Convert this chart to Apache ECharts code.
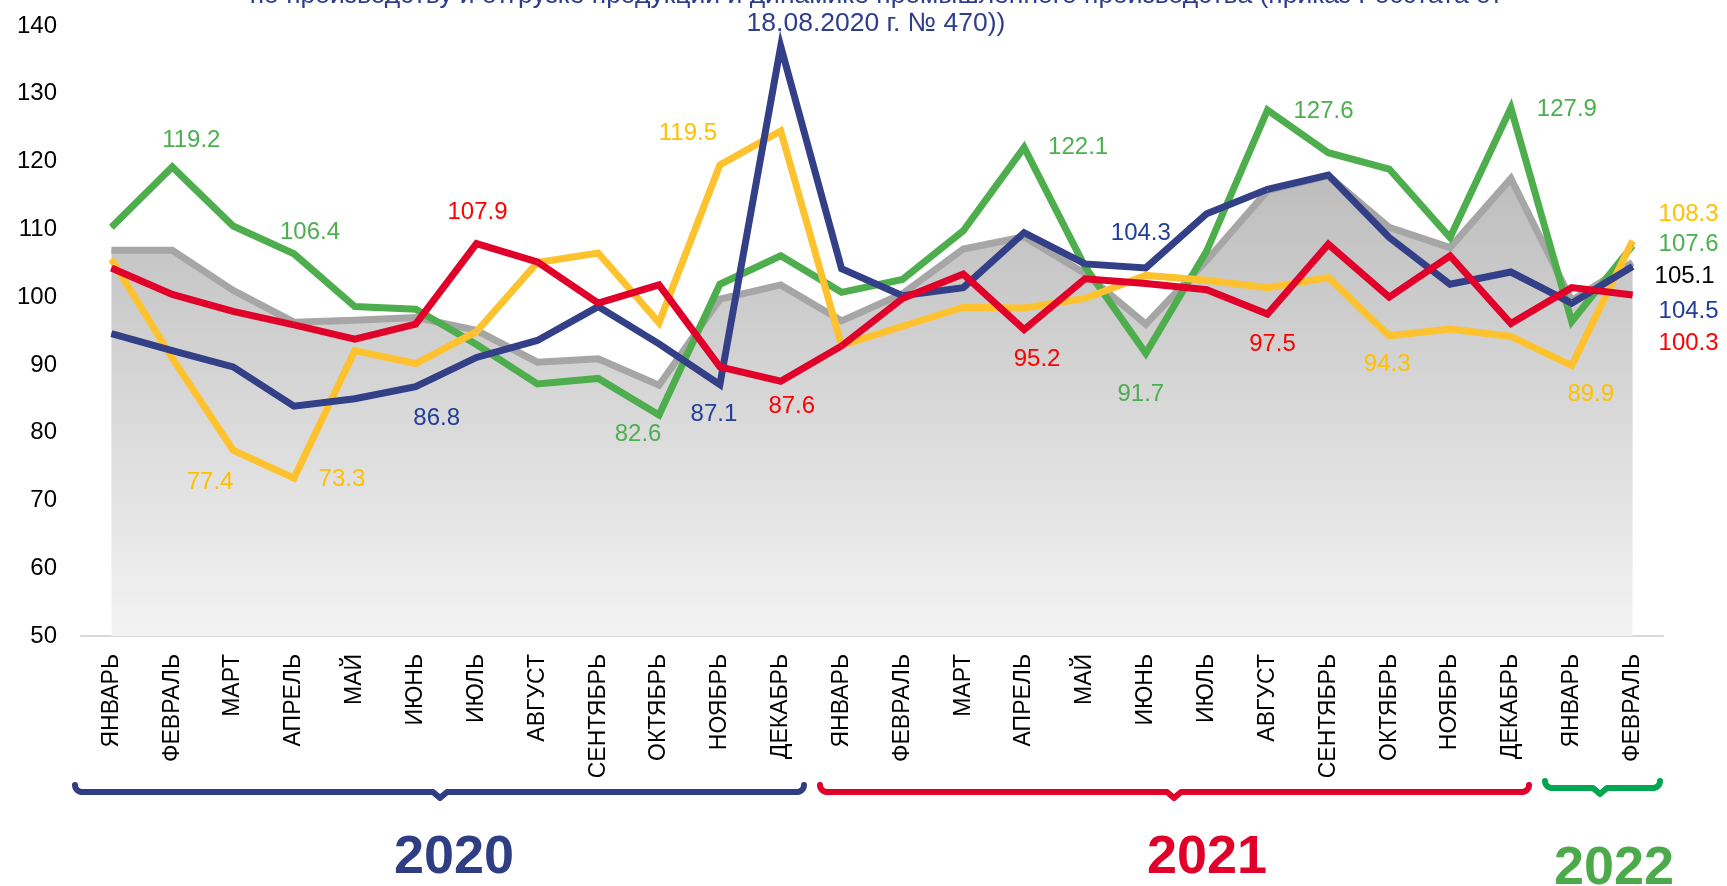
<!DOCTYPE html>
<html>
<head>
<meta charset="utf-8">
<script src="https://cdn.jsdelivr.net/npm/echarts@6/dist/echarts.min.js"></script>
<style>
  html, body { margin: 0; padding: 0; background: #fff; }
  #chart { width: 1727px; height: 886px; }
</style>
</head>
<body>
<div id="chart"></div>
<script>
// подписи по оси X (январь 2020 - февраль 2022)
var categories = [
    'ЯНВАРЬ', 'ФЕВРАЛЬ', 'МАРТ', 'АПРЕЛЬ', 'МАЙ', 'ИЮНЬ', 'ИЮЛЬ', 'АВГУСТ', 'СЕНТЯБРЬ', 'ОКТЯБРЬ', 'НОЯБРЬ', 'ДЕКАБРЬ',
    'ЯНВАРЬ', 'ФЕВРАЛЬ', 'МАРТ', 'АПРЕЛЬ', 'МАЙ', 'ИЮНЬ', 'ИЮЛЬ', 'АВГУСТ', 'СЕНТЯБРЬ', 'ОКТЯБРЬ', 'НОЯБРЬ', 'ДЕКАБРЬ',
    'ЯНВАРЬ', 'ФЕВРАЛЬ'
];

// значения рядов
var grayValues = [106.9, 106.9, 101.0, 96.3, 96.6, 97.0, 95.1, 90.4, 90.9, 87.0, 99.7, 101.8,
    96.5, 100.5, 107.1, 108.9, 103.5, 96.0, 105.4, 115.7, 117.9, 110.3, 107.3, 117.5, 99.5, 105.1];
var greenValues = [110.3, 119.2, 110.5, 106.4, 98.6, 98.2, 93.0, 87.2, 88.0, 82.6, 101.9, 106.1,
    100.7, 102.6, 109.8, 122.1, 104.5, 91.7, 106.8, 127.6, 121.3, 118.9, 108.8, 127.9, 96.4, 107.6];
var yellowValues = [105.6, 91.0, 77.4, 73.3, 92.1, 90.2, 94.9, 105.1, 106.5, 96.2, 119.5, 124.5,
    92.9, 95.7, 98.5, 98.4, 99.8, 103.2, 102.5, 101.4, 102.9, 94.3, 95.3, 94.2, 89.9, 108.3];
var redValues = [104.3, 100.4, 97.9, 95.9, 93.8, 96.0, 107.9, 105.2, 99.1, 101.8, 89.7, 87.6,
    92.8, 99.8, 103.4, 95.2, 102.7, 102.0, 101.1, 97.5, 107.8, 100.0, 106.1, 96.1, 101.4, 100.3];
var blueValues = [94.6, 92.1, 89.7, 83.9, 85.0, 86.8, 91.1, 93.6, 98.6, 93.1, 87.1, 137.0,
    104.2, 100.2, 101.4, 109.5, 104.9, 104.3, 112.3, 115.9, 118.0, 108.8, 101.9, 103.7, 99.1, 104.5];

// подписанные точки: индекс -> смещение подписи [dx, dy]
var grayLabels = { 25: [52, 14] };
var greenLabels = { 1: [19, -27], 3: [16, -21], 9: [-21, 19], 15: [54, 0], 17: [-5, 41], 19: [56, 1], 23: [56, 1], 25: [56, -1] };
var yellowLabels = { 2: [-23, 32], 3: [48, 1], 10: [-32, -32], 21: [-2, 29], 24: [19, 29], 25: [56, -26] };
var redLabels = { 6: [1, -31], 11: [11, 25], 15: [13, 30], 19: [5, 30], 25: [56, 48] };
var blueLabels = { 5: [21, 32], 10: [-6, 30], 17: [-5, -35], 25: [56, 45] };

var FONT = 'Arial, "Liberation Sans", sans-serif';

function buildData(values, spots, color) {
    return values.map(function (v, i) {
        if (!spots[i]) return v;
        return {
            value: v,
            label: {
                show: true,
                position: 'inside',
                offset: spots[i],
                color: color,
                fontSize: 24,
                fontFamily: FONT,
                formatter: function (p) { return p.value.toFixed(1); }
            }
        };
    });
}

function lineSeries(name, values, spots, lineColor, labelColor, extra) {
    var s = {
        name: name,
        type: 'line',
        data: buildData(values, spots, labelColor),
        symbol: 'circle',
        symbolSize: 1,
        itemStyle: { color: lineColor },
        lineStyle: { color: lineColor, width: 7, join: 'miter' },
        label: { show: false },
        emphasis: { disabled: true },
        silent: true
    };
    if (extra) Object.assign(s, extra);
    return s;
}

// фигурная скобка под годом
function bracePoints(x0, x1, xm, yEnd, yBar, yTip) {
    var r = yBar - yEnd, pts = [], a;
    for (a = 0; a <= 90; a += 10) {
        var t = a * Math.PI / 180;
        pts.push([x0 + r - r * Math.cos(t), yEnd + r * Math.sin(t)]);
    }
    pts.push([xm - 7, yBar], [xm, yTip], [xm + 7, yBar]);
    for (a = 90; a >= 0; a -= 10) {
        var u = a * Math.PI / 180;
        pts.push([x1 - r + r * Math.cos(u), yEnd + r * Math.sin(u)]);
    }
    return pts;
}

function brace(pts, color) {
    return {
        type: 'polyline',
        shape: { points: pts },
        style: { stroke: color, lineWidth: 6, fill: null, lineJoin: 'round', lineCap: 'round' },
        silent: true
    };
}

function yearText(text, x, y, color) {
    return {
        type: 'text',
        x: x, y: y,
        style: {
            text: text, fill: color, align: 'center', verticalAlign: 'middle',
            font: 'bold 54px ' + FONT
        },
        silent: true
    };
}

var chart = echarts.init(document.getElementById('chart'));

var option = {
    animation: false,
    backgroundColor: '#fff',
    grid: { left: 81, right: 64, top: 26, bottom: 250 },
    xAxis: {
        type: 'category',
        data: categories,
        boundaryGap: true,
        axisLine: { lineStyle: { color: '#D9D9D9', width: 2 } },
        axisTick: { show: false },
        axisLabel: {
            interval: 0,
            rotate: 90,
            margin: 18,
            fontSize: 23,
            color: '#000',
            fontFamily: FONT
        }
    },
    yAxis: {
        type: 'value',
        min: 50,
        max: 140,
        interval: 10,
        axisLine: { show: false },
        axisTick: { show: false },
        splitLine: { show: false },
        axisLabel: { fontSize: 24, color: '#000', margin: 24, fontFamily: FONT }
    },
    graphic: [
        {
            type: 'text',
            x: 876, y: 10,
            style: {
                text: 'по производству и отгрузке продукции и динамике промышленного производства (приказ Росстата от\n18.08.2020 г. № 470))',
                fill: '#2F3E8C',
                align: 'center',
                verticalAlign: 'middle',
                lineHeight: 28,
                font: '26.5px ' + FONT
            },
            silent: true
        },
        brace(bracePoints(75, 804, 440, 785, 792, 798), '#2F3D82'),
        brace(bracePoints(820, 1529, 1174, 785, 792, 798), '#E0002A'),
        brace(bracePoints(1545, 1660, 1600, 781, 788, 794), '#00A650'),
        yearText('2020', 454, 858, '#2F3D82'),
        yearText('2021', 1207, 858, '#E0002A'),
        yearText('2022', 1614, 869, '#4DAA4A')
    ],
    series: [
        lineSeries('gray', grayValues, grayLabels, '#A6A6A6', '#000', {
            areaStyle: {
                color: new echarts.graphic.LinearGradient(0, 0, 0, 1, [
                    { offset: 0, color: '#BDBDBD' },
                    { offset: 1, color: '#F3F3F3' }
                ]),
                opacity: 1
            }
        }),
        lineSeries('green', greenValues, greenLabels, '#4EAE4D', '#4CAF50'),
        lineSeries('yellow', yellowValues, yellowLabels, '#FFC22F', '#FFC000'),
        lineSeries('blue', blueValues, blueLabels, '#333F87', '#203D98'),
        lineSeries('red', redValues, redLabels, '#E1002A', '#FF0000')
    ]
};

chart.setOption(option);
</script>
</body>
</html>
